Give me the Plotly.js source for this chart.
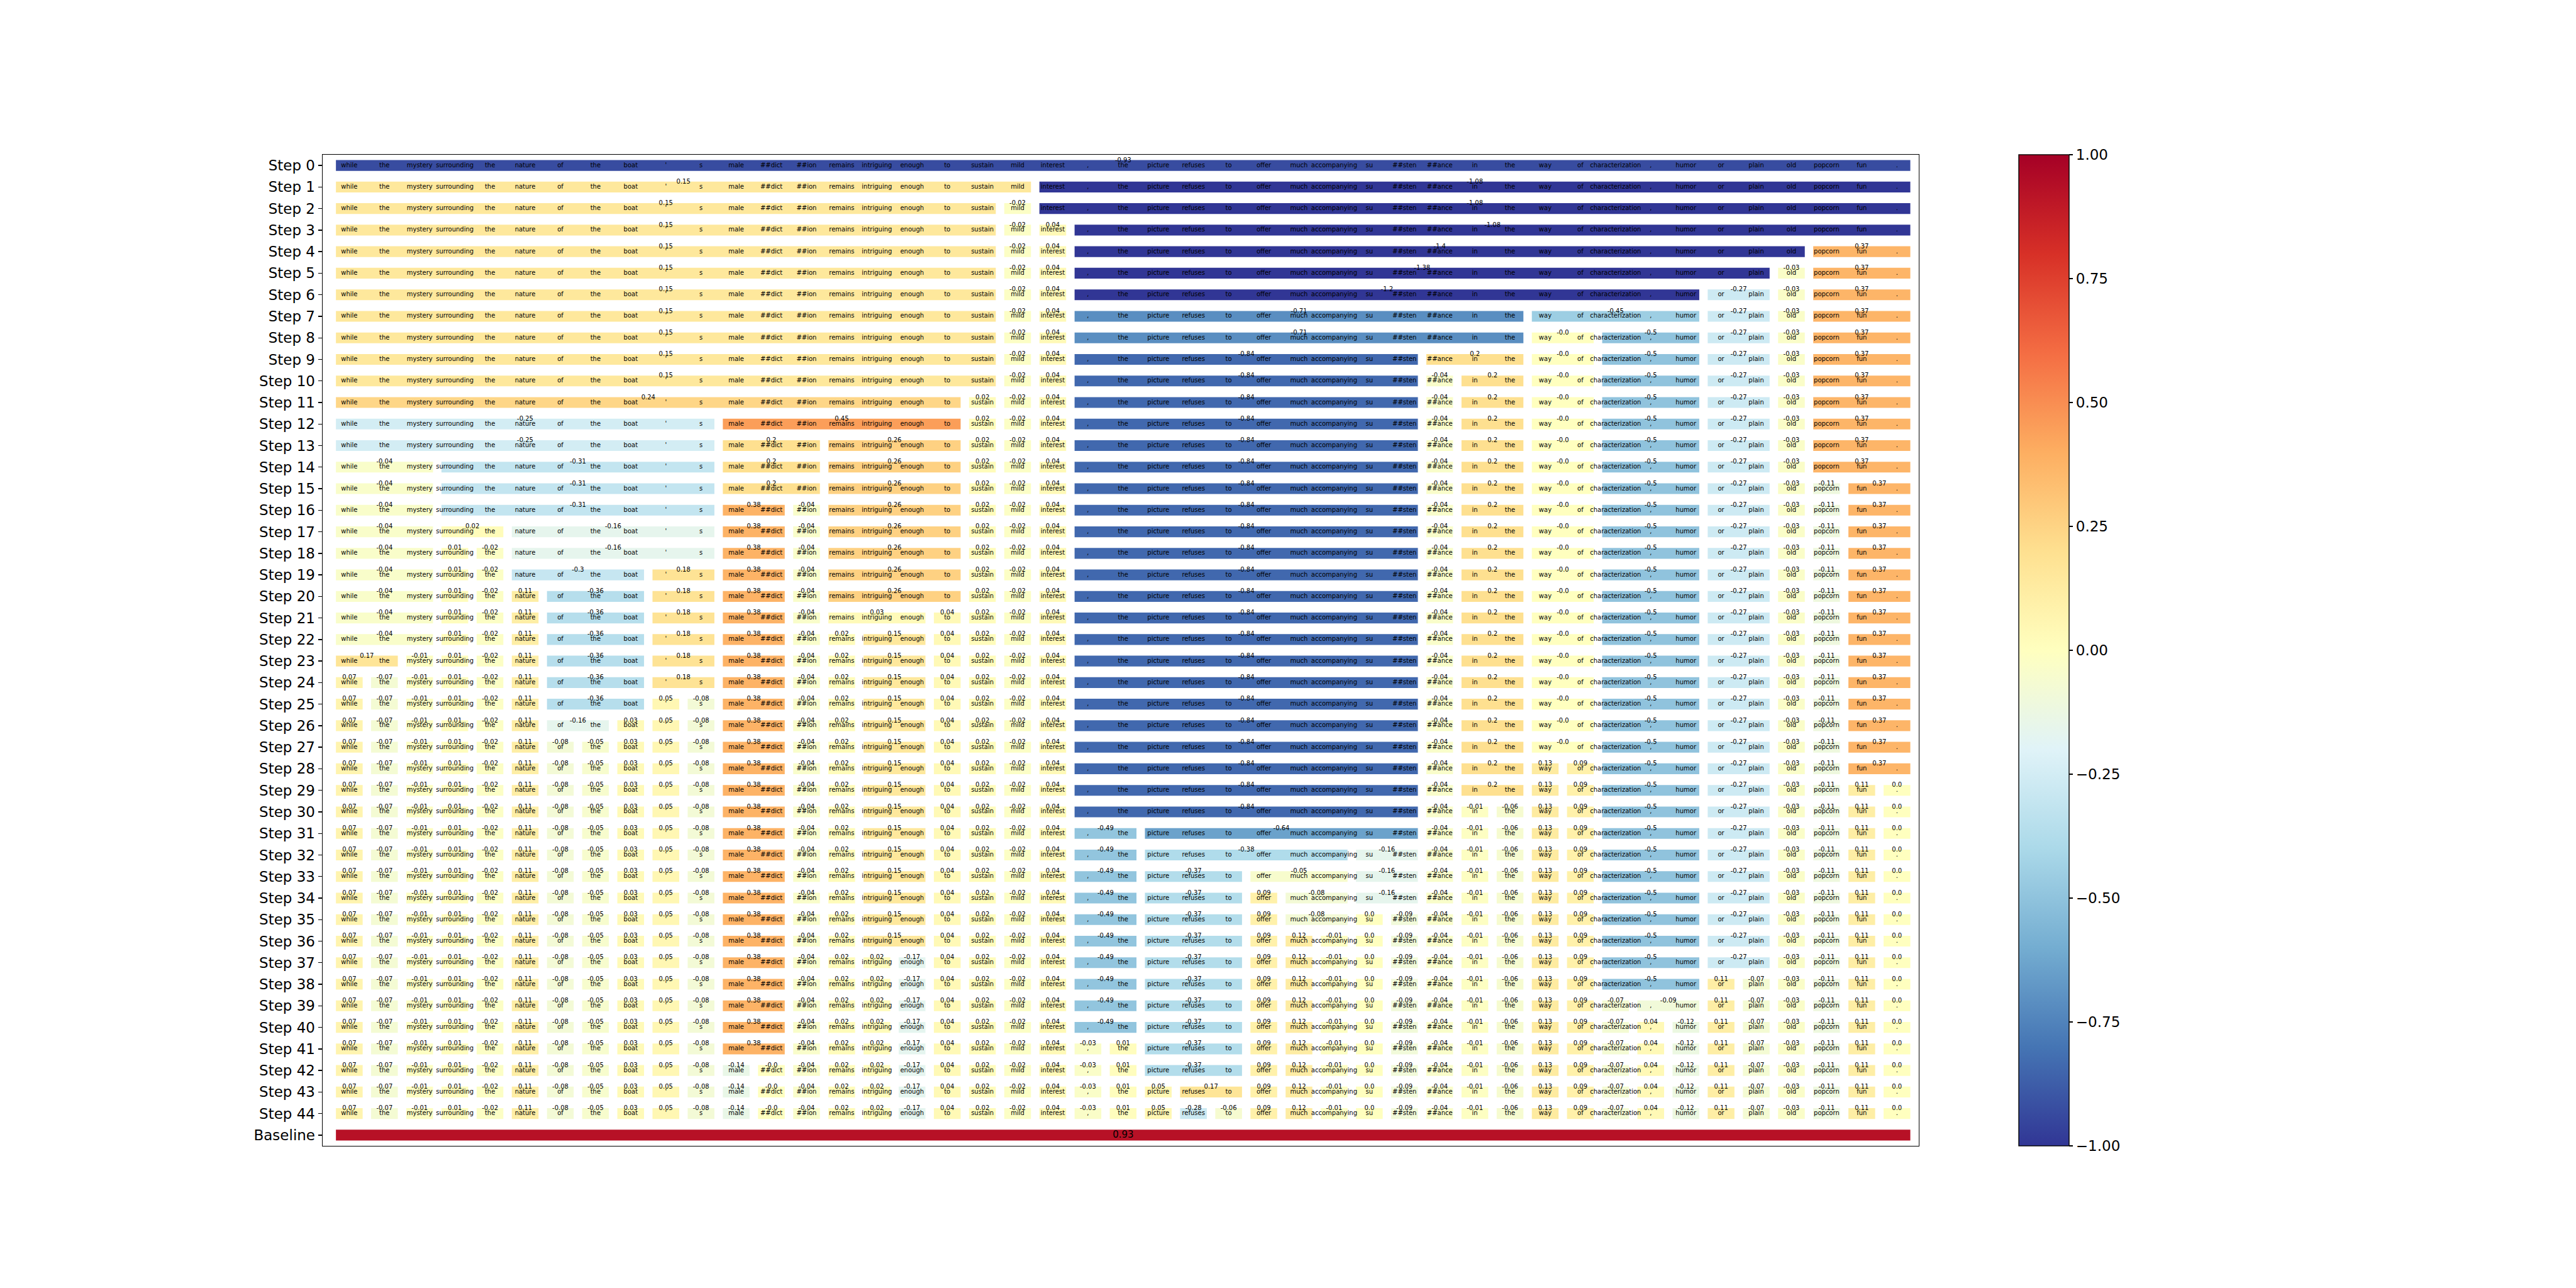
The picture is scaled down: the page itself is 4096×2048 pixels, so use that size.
<!DOCTYPE html>
<html><head><meta charset="utf-8">
<script src="https://cdn.plot.ly/plotly-3.0.1.min.js"></script>
<style>html,body{margin:0;padding:0;background:#fff}</style>
</head><body><div id="chart" style="width:4096px;height:2048px"></div>
<script>
const tokens = ["while","the","mystery","surrounding","the","nature","of","the","boat","'","s","male","##dict","##ion","remains","intriguing","enough","to","sustain","mild","interest",",","the","picture","refuses","to","offer","much","accompanying","su","##sten","##ance","in","the","way","of","characterization",",","humor","or","plain","old","popcorn","fun","."];
const rowLabels = ["Step 0","Step 1","Step 2","Step 3","Step 4","Step 5","Step 6","Step 7","Step 8","Step 9","Step 10","Step 11","Step 12","Step 13","Step 14","Step 15","Step 16","Step 17","Step 18","Step 19","Step 20","Step 21","Step 22","Step 23","Step 24","Step 25","Step 26","Step 27","Step 28","Step 29","Step 30","Step 31","Step 32","Step 33","Step 34","Step 35","Step 36","Step 37","Step 38","Step 39","Step 40","Step 41","Step 42","Step 43","Step 44","Baseline"];
const rootValue = -0.93;
const baselineValue = 0.93;
// step k+1 cuts the group that starts at token splitStart[k] (1-based) right after token splitAfter[k]
const splitStart = [1,1,21,22,22,22,22,35,22,32,1,1,12,1,43,12,4,4,6,6,15,15,1,1,10,7,7,35,44,33,22,24,24,27,30,28,16,40,37,38,22,12,24,25];
const splitAfter = [20,19,21,42,41,39,34,36,31,32,18,11,14,3,43,13,5,4,9,6,17,15,2,1,10,8,7,35,44,33,23,29,26,27,30,28,16,40,37,38,22,12,24,25];
const leftValue = [0.15,0.15,0.04,-1.4,-1.38,-1.2,-0.71,-0.0,-0.84,-0.04,0.24,-0.25,0.2,-0.04,-0.11,0.38,0.02,0.01,-0.3,0.11,0.03,0.02,0.17,0.07,0.05,-0.16,-0.08,0.13,0.11,-0.01,-0.49,-0.38,-0.37,0.09,0.0,0.12,0.02,0.11,-0.07,0.04,-0.03,-0.14,0.05,-0.28];
const rightValue = [-1.08,-0.02,-1.08,0.37,-0.03,-0.27,-0.45,-0.5,0.2,0.2,0.02,0.45,0.26,-0.31,0.37,-0.04,-0.16,-0.02,0.18,-0.36,0.04,0.15,-0.01,-0.07,-0.08,0.03,-0.05,0.09,0.0,-0.06,-0.64,-0.16,-0.05,-0.08,-0.09,-0.01,-0.17,-0.07,-0.09,-0.12,0.01,-0.0,0.17,-0.06];

const cbVals = [-1,-0.75,-0.5,-0.25,0,0.25,0.5,0.75,1];
const cbText = ["\u22121.00","\u22120.75","\u22120.50","\u22120.25","0.00","0.25","0.50","0.75","1.00"];

const rdylbu_r = [
 [0.0,'rgb(49,54,149)'],[0.1,'rgb(69,117,180)'],[0.2,'rgb(116,173,209)'],[0.3,'rgb(171,217,233)'],
 [0.4,'rgb(224,243,248)'],[0.5,'rgb(255,255,191)'],[0.6,'rgb(254,224,144)'],[0.7,'rgb(253,174,97)'],
 [0.8,'rgb(244,109,67)'],[0.9,'rgb(215,48,39)'],[1.0,'rgb(165,0,38)']];

function fmt(v){
  if (Object.is(v,-0)) return "-0.0";
  let s = String(v);
  if (s.indexOf('.') < 0) s += '.0';
  return s;
}

// build the rows of groups
let segs = [{a:1,b:tokens.length,v:rootValue}];
const rows = [segs.slice()];
for (let k=0;k<splitStart.length;k++){
  const idx = segs.findIndex(s => s.a === splitStart[k]);
  const s = segs[idx];
  const L = {a:s.a, b:splitAfter[k], v:leftValue[k]};
  const R = {a:splitAfter[k]+1, b:s.b, v:rightValue[k]};
  segs = segs.slice(0,idx).concat([L,R], segs.slice(idx+1));
  rows.push(segs.slice());
}
const HALF = 0.38;
const bx=[], by=[], bbase=[], bcol=[];
const lx=[], ly=[], lt=[];
rows.forEach((row,r)=>{
  row.forEach(s=>{
    by.push(r); bbase.push(s.a-1-HALF); bx.push(s.b-s.a+2*HALF); bcol.push(s.v);
    lx.push((s.a+s.b)/2-1); ly.push(r-0.23); lt.push(fmt(s.v));
  });
});
const baseRow = rows.length;
by.push(baseRow); bbase.push(-HALF); bx.push(tokens.length-1+2*HALF); bcol.push(baselineValue);

const tx=[], ty=[], tt=[];
for (let r=0;r<rows.length;r++){
  tokens.forEach((t,i)=>{ tx.push(i); ty.push(r); tt.push(t); });
}

const FONT = 'DejaVu Sans, sans-serif';
const plotL = 513, plotR = 3051, plotT = 246, plotB = 1822;
const cbLeft = 3210;

const barTrace = {
  type:'bar', orientation:'h', y:by, x:bx, base:bbase, width:0.5,
  marker:{color:bcol, colorscale:rdylbu_r, cmin:-1, cmax:1, line:{width:0},
    showscale:true,
    colorbar:{x:(cbLeft-plotL)/(plotR-plotL), xanchor:'left', xref:'paper',
      y:0.5, yanchor:'middle', len:1, lenmode:'fraction', thickness:80, thicknessmode:'pixels',
      xpad:0, ypad:0, outlinewidth:1.4, outlinecolor:'#000',
      tickmode:'array', tickvals:cbVals, ticktext:cbText, ticks:'outside', ticklen:6, tickwidth:1.4, tickcolor:'#000',
      tickfont:{family:FONT, size:23, color:'#000'}}},
  hoverinfo:'skip'
};
const tokenTrace = {type:'scatter', mode:'text', x:tx, y:ty, text:tt, textposition:'middle center',
  textfont:{family:FONT, size:10, color:'#000'}, hoverinfo:'skip', cliponaxis:false};
const labelTrace = {type:'scatter', mode:'text', x:lx, y:ly, text:lt, textposition:'middle center',
  textfont:{family:FONT, size:10, color:'#000'}, hoverinfo:'skip', cliponaxis:false};
const baseLabel = {type:'scatter', mode:'text', x:[(tokens.length-1)/2], y:[baseRow], text:[fmt(baselineValue)],
  textposition:'middle center', textfont:{family:FONT, size:15, color:'#000'}, hoverinfo:'skip'};

const yVals = rowLabels.map((_,i)=>i);
const layout = {
  width:4096, height:2048, showlegend:false,
  paper_bgcolor:'#fff', plot_bgcolor:'#fff',
  margin:{l:plotL, r:4096-plotR, t:plotT, b:2048-plotB, pad:0},
  barmode:'overlay',
  xaxis:{range:[-0.758,44.621], showticklabels:false, ticks:'', showgrid:false, zeroline:false,
    showline:true, mirror:true, linecolor:'#000', linewidth:1.4},
  yaxis:{range:[45.5,-0.5], tickmode:'array', tickvals:yVals, ticktext:rowLabels, ticks:'outside', ticklen:6,
    tickwidth:1.4, tickcolor:'#000', tickfont:{family:FONT, size:23, color:'#000'}, showgrid:false, zeroline:false,
    showline:true, mirror:true, linecolor:'#000', linewidth:1.4},
  font:{family:FONT, color:'#000'}
};
Plotly.newPlot('chart',[barTrace, tokenTrace, labelTrace, baseLabel], layout, {displayModeBar:false, staticPlot:true});
</script></body></html>
